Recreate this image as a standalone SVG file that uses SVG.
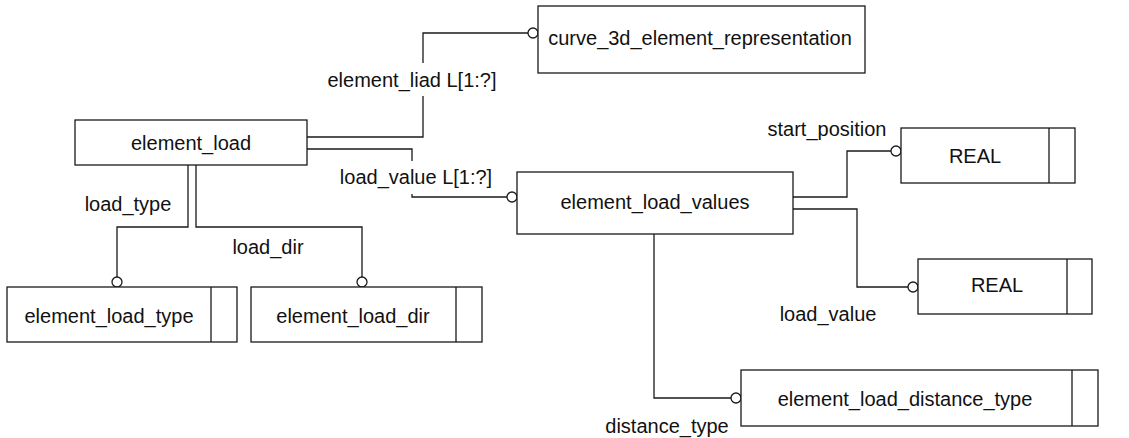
<svg xmlns="http://www.w3.org/2000/svg" width="1129" height="438" viewBox="0 0 1129 438">
  <style>
    .box { fill: #fff; stroke: #1a1a1a; stroke-width: 1.3; }
    .div { stroke: #1a1a1a; stroke-width: 1.3; fill: none; }
    .wire { fill: none; stroke: #1a1a1a; stroke-width: 1.3; }
    .ring { fill: #fff; stroke: #1a1a1a; stroke-width: 1.3; }
    text { font-family: "Liberation Sans", Arial, sans-serif; font-size: 20px; fill: #111; }
    .mid { text-anchor: middle; }
  </style>
  <rect width="1129" height="438" fill="#fff"/>

  <!-- relationship lines -->
  <g id="connectors">
    <path class="wire" d="M307,137 H423 V96 M423,63 V33 H528"/>
    <circle class="ring" cx="533" cy="33" r="5"/>

    <path class="wire" d="M307,149 H412 V161 M412,194 V197 H507"/>
    <circle class="ring" cx="512" cy="197" r="5"/>

    <path class="wire" d="M188,165 V227 H117 V277"/>
    <circle class="ring" cx="117" cy="282" r="5"/>

    <path class="wire" d="M196,165 V227 H362 V277"/>
    <circle class="ring" cx="362" cy="282" r="5"/>

    <path class="wire" d="M793,197 H847 V151 H891"/>
    <circle class="ring" cx="896" cy="151" r="5"/>

    <path class="wire" d="M793,209 H857 V287 H908"/>
    <circle class="ring" cx="913" cy="287" r="5"/>

    <path class="wire" d="M654,234 V398 H731"/>
    <circle class="ring" cx="736" cy="398" r="5"/>

    <text class="mid" x="412" y="87">element_liad L[1:?]</text>
    <text class="mid" x="416" y="184">load_value L[1:?]</text>
    <text class="mid" x="128" y="211">load_type</text>
    <text class="mid" x="268" y="254">load_dir</text>
    <text class="mid" x="827" y="136">start_position</text>
    <text class="mid" x="828" y="321">load_value</text>
    <text class="mid" x="667" y="433">distance_type</text>
  </g>

  <g id="curve_3d_element_representation">
    <rect class="box" x="538" y="6" width="327" height="67"/>
    <text class="mid" x="700" y="45">curve_3d_element_representation</text>
  </g>

  <g id="element_load">
    <rect class="box" x="75" y="120" width="232" height="45"/>
    <text class="mid" x="191" y="150">element_load</text>
  </g>

  <g id="element_load_values">
    <rect class="box" x="517" y="172" width="276" height="62"/>
    <text class="mid" x="655" y="209">element_load_values</text>
  </g>

  <g id="real_start_position">
    <rect class="box" x="901" y="128" width="174" height="55"/>
    <line class="div" x1="1049" y1="128" x2="1049" y2="183"/>
    <text class="mid" x="975" y="163">REAL</text>
  </g>

  <g id="real_load_value">
    <rect class="box" x="918" y="259" width="174" height="55"/>
    <line class="div" x1="1067" y1="259" x2="1067" y2="314"/>
    <text class="mid" x="997" y="292">REAL</text>
  </g>

  <g id="element_load_distance_type">
    <rect class="box" x="741" y="370" width="357" height="56"/>
    <line class="div" x1="1072" y1="370" x2="1072" y2="426"/>
    <text class="mid" x="905" y="406">element_load_distance_type</text>
  </g>

  <g id="element_load_type">
    <rect class="box" x="7" y="287" width="230" height="55"/>
    <line class="div" x1="211" y1="287" x2="211" y2="342"/>
    <text class="mid" x="109" y="323">element_load_type</text>
  </g>

  <g id="element_load_dir">
    <rect class="box" x="251" y="287" width="231" height="55"/>
    <line class="div" x1="456" y1="287" x2="456" y2="342"/>
    <text class="mid" x="353" y="323">element_load_dir</text>
  </g>
</svg>
